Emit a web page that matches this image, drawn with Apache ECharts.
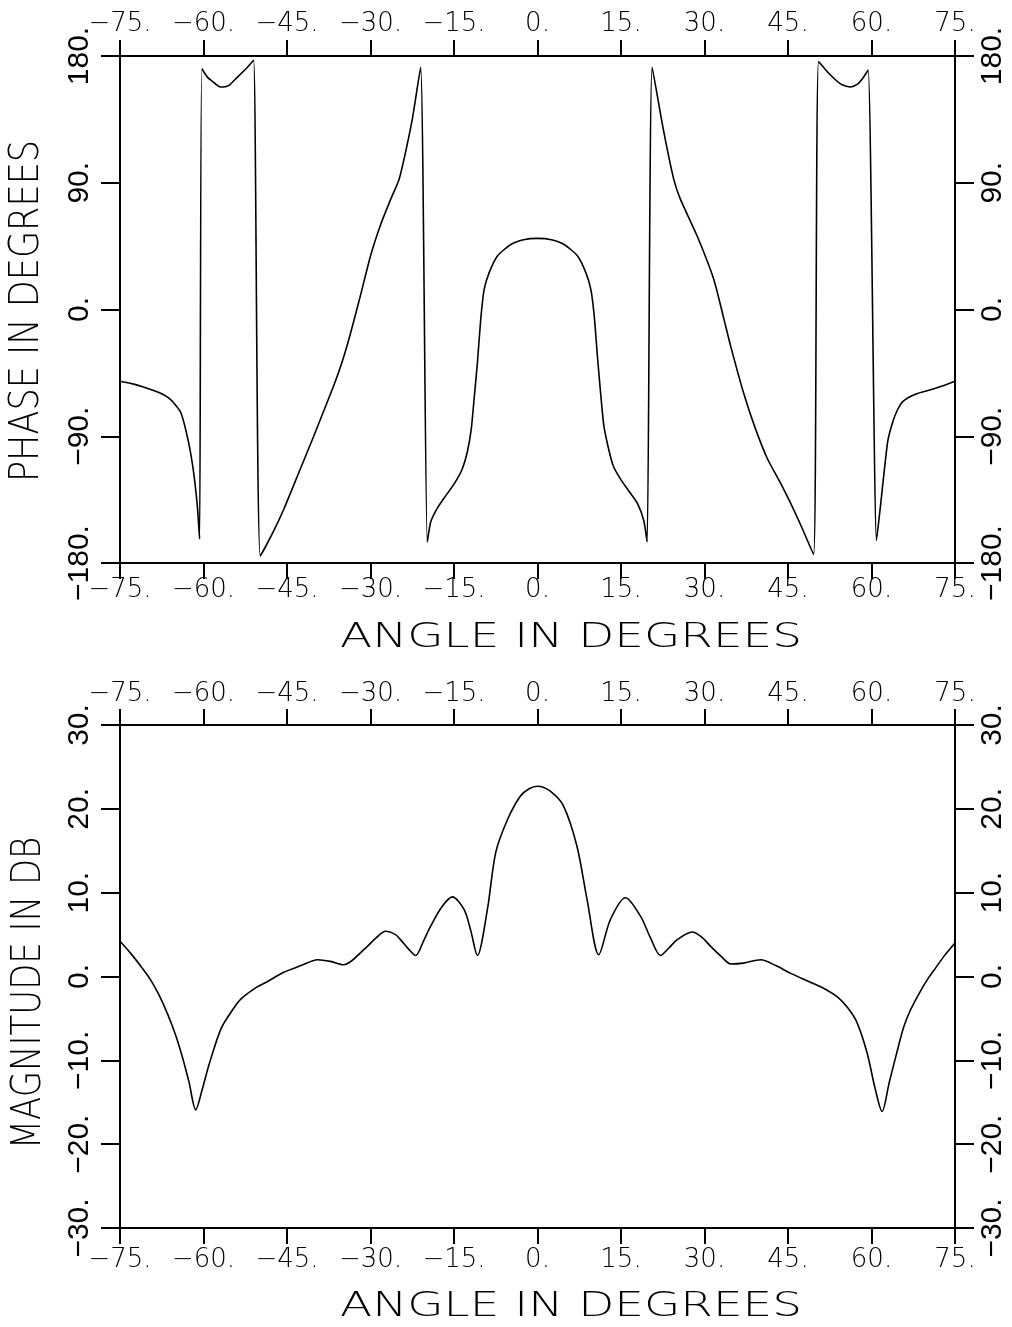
<!DOCTYPE html>
<html>
<head>
<meta charset="utf-8">
<script src="https://cdn.jsdelivr.net/npm/echarts@6/dist/echarts.min.js"></script>
<style>
  html, body { margin: 0; padding: 0; background: #fff; }
  #chart { width: 1012px; height: 1327px; }
</style>
</head>
<body>
<div id="chart"></div>
<script>
// ---------- DATA ----------
const angleTicks = [-75, -60, -45, -30, -15, 0, 15, 30, 45, 60, 75];
const phaseTicks = [-180, -90, 0, 90, 180];
const magTicks = [-30, -20, -10, 0, 10, 20, 30];

const phaseAngle = [
  -75, -72.5, -70.8, -68, -65.9, -64.1, -62.7, -61.8, -61.1, -60.7,
  -60.3, -59.3, -58.4, -57.0, -55.5, -53.9, -52.1, -51.0,
  -49.8, -47.5, -45.6, -43, -40.2, -38.5, -36.6, -35.0, -33.6, -31.8, -30.0, -28.2, -26.4, -24.9, -23.8, -22.5, -21.0,
  -19.8, -19.2, -18.0, -16.8, -15, -13.6, -12.6, -11.9, -11.4, -10.8, -10.2, -9.6, -8.7, -7.2, -4.85, -2.5, 0,
  2.5, 4.85, 7.2, 8.7, 9.6, 10.2, 10.8, 11.4, 11.9, 12.6, 13.6, 15, 16.8, 18.0, 19.1, 19.7,
  20.6, 22.5, 24.5, 25.7, 28.7, 31.7, 33.5, 34.7, 37, 39, 41.3, 43.5, 45.4, 47.5, 49.6,
  50.5, 52.5, 54.5, 56.2, 57.5, 58.4, 59.4,
  60.9, 61.6, 62.9, 63.8, 64.7, 65.7, 68, 70.6, 73, 75
];
const phaseDeg = [
  -51, -53, -55, -59, -64, -73, -94, -115, -140, -163,
  171, 165, 162, 158, 159, 165, 172, 177,
  -175, -158, -142, -117, -90, -73, -54, -36, -17, 10, 38, 60, 78, 92, 110, 135, 172,
  -165, -151, -141, -134, -124, -114, -101, -85, -64, -38, -7, 14, 26, 38, 46, 49.5, 50.5,
  49.5, 46, 38, 26, 14, -5, -35, -62, -82, -96, -111, -121, -131, -138, -150, -165,
  172, 130, 92, 78, 52, 21, -7, -26, -59, -83, -106, -122, -137, -155, -174,
  176, 167, 160, 158, 160, 164, 170,
  -164, -140, -94, -80, -71, -65, -60, -57, -54, -51
];

const magAngle = [
  -75, -73, -71, -69.5, -68, -66.5, -65, -63.8, -62.6, -61.4, -60.2, -59.0, -56.9, -55, -53.3, -50.5, -48.5,
  -45.6, -42.5, -39.5, -37.2, -34.8, -31.2, -29, -27.3, -25.5, -24.6, -23.2, -21.9, -20.5, -19.2, -17.2, -15.3,
  -13.2, -12, -10.8, -9.0, -7.5, -5.4, -3.1, -1.5, 0, 2.3, 4.7, 7.1, 8.9, 11.0, 13.1, 15.8, 18.5, 20.3, 22.1,
  23.6, 25.1, 27.8, 29.5, 31.1, 33, 34.7, 37, 40.1, 42.8, 45.4, 48.4, 50.8, 53.8, 55.8, 57.4, 59.2, 60.7, 61.9,
  63.2, 64.5, 65.8, 67, 68.5, 70, 71.5, 73, 75
];
const magDb = [
  4.2, 2.7, 1.0, -0.4, -2.2, -4.4, -7.0, -9.6, -12.6, -15.9, -13.4, -10.5, -6.3, -4.2, -2.7, -1.3, -0.6,
  0.5, 1.3, 2.0, 1.8, 1.4, 3.2, 4.6, 5.4, 5.0, 4.4, 3.3, 2.5, 4.2, 6.0, 8.3, 9.5,
  8.0, 5.5, 2.5, 8.0, 14.8, 18.7, 21.5, 22.4, 22.7, 22.1, 20.3, 15.5, 9.2, 2.6, 6.8, 9.4, 7.2, 4.6, 2.5,
  3.4, 4.4, 5.3, 4.7, 3.6, 2.4, 1.5, 1.6, 2.0, 1.3, 0.4, -0.5, -1.2, -2.4, -3.8, -5.5, -9.1, -13.5, -16.1,
  -12.6, -9.2, -6.0, -4.0, -2.1, -0.4, 1.0, 2.4, 4.0
];

// ---------- CHART ----------
const fmt = v => (v < 0 ? '\u2212' : '') + Math.abs(v) + '.';
const xFont = { fontFamily: '"DejaVu Sans", sans-serif', fontWeight: 200, fontSize: 26, color: '#000' };
const yFont = { fontFamily: '"Liberation Sans Narrow", "Liberation Sans", sans-serif', fontSize: 30, color: '#000' };
const lineStyle = { color: '#000', width: 2 };
const tickStyle = { color: '#000', width: 2 };

function xAx(grid, pos, margin) {
  return {
    type: 'value', gridIndex: grid, position: pos, min: -75, max: 75, interval: 15,
    axisLine: { show: true, onZero: false, lineStyle: lineStyle },
    axisTick: { show: true, inside: false, length: 16, lineStyle: tickStyle },
    axisLabel: Object.assign({ show: true, margin: margin, formatter: fmt, showMinLabel: true, showMaxLabel: true, interval: 0 }, xFont),
    splitLine: { show: false }
  };
}
function yAx(grid, pos, min, max, interval, margin) {
  return {
    type: 'value', gridIndex: grid, position: pos, min: min, max: max, interval: interval,
    axisLine: { show: true, onZero: false, lineStyle: lineStyle },
    axisTick: { show: true, inside: false, length: 19, lineStyle: tickStyle },
    axisLabel: Object.assign({ show: true, rotate: 90, margin: margin, formatter: fmt, showMinLabel: true, showMaxLabel: true }, yFont),
    splitLine: { show: false }
  };
}

const chart = echarts.init(document.getElementById('chart'), null, { renderer: 'canvas' });
const titleFont = '"DejaVu Sans", sans-serif';
chart.setOption({
  backgroundColor: '#fff',
  animation: false,
  grid: [
    { left: 120, top: 56, width: 835, height: 507 },
    { left: 120, top: 725, width: 835, height: 503 }
  ],
  xAxis: [
    xAx(0, 'bottom', 14), xAx(0, 'top', 19),
    xAx(1, 'bottom', 19), xAx(1, 'top', 18)
  ],
  yAxis: [
    yAx(0, 'left', -180, 180, 90, 25), yAx(0, 'right', -180, 180, 90, 23),
    yAx(1, 'left', -30, 30, 10, 25), yAx(1, 'right', -30, 30, 10, 23)
  ],
  series: [
    {
      type: 'line', xAxisIndex: 0, yAxisIndex: 0, showSymbol: false, smooth: 0.2,
      lineStyle: { color: '#000', width: 1.6 },
      data: phaseAngle.map((a, i) => [a, phaseDeg[i]])
    },
    {
      type: 'line', xAxisIndex: 2, yAxisIndex: 2, showSymbol: false, smooth: 0.3,
      lineStyle: { color: '#000', width: 1.6 },
      data: magAngle.map((a, i) => [a, magDb[i]])
    }
  ],
  graphic: [
    { type: 'text', x: 28, y: 311, rotation: Math.PI / 2, scaleX: 0.877,
      style: { text: 'PHASE IN DEGREES', font: '200 40px ' + titleFont, fill: '#000', align: 'center', verticalAlign: 'middle' } },
    { type: 'text', x: 30, y: 993, rotation: Math.PI / 2, scaleX: 0.85,
      style: { text: 'MAGNITUDE IN DB', font: '200 40px ' + titleFont, fill: '#000', align: 'center', verticalAlign: 'middle' } },
    { type: 'text', x: 571, y: 638, scaleX: 1.38,
      style: { text: 'ANGLE IN DEGREES', font: '200 34px ' + titleFont, fill: '#000', align: 'center', verticalAlign: 'middle' } },
    { type: 'text', x: 571, y: 1307, scaleX: 1.38,
      style: { text: 'ANGLE IN DEGREES', font: '200 34px ' + titleFont, fill: '#000', align: 'center', verticalAlign: 'middle' } }
  ]
});
</script>
</body>
</html>
